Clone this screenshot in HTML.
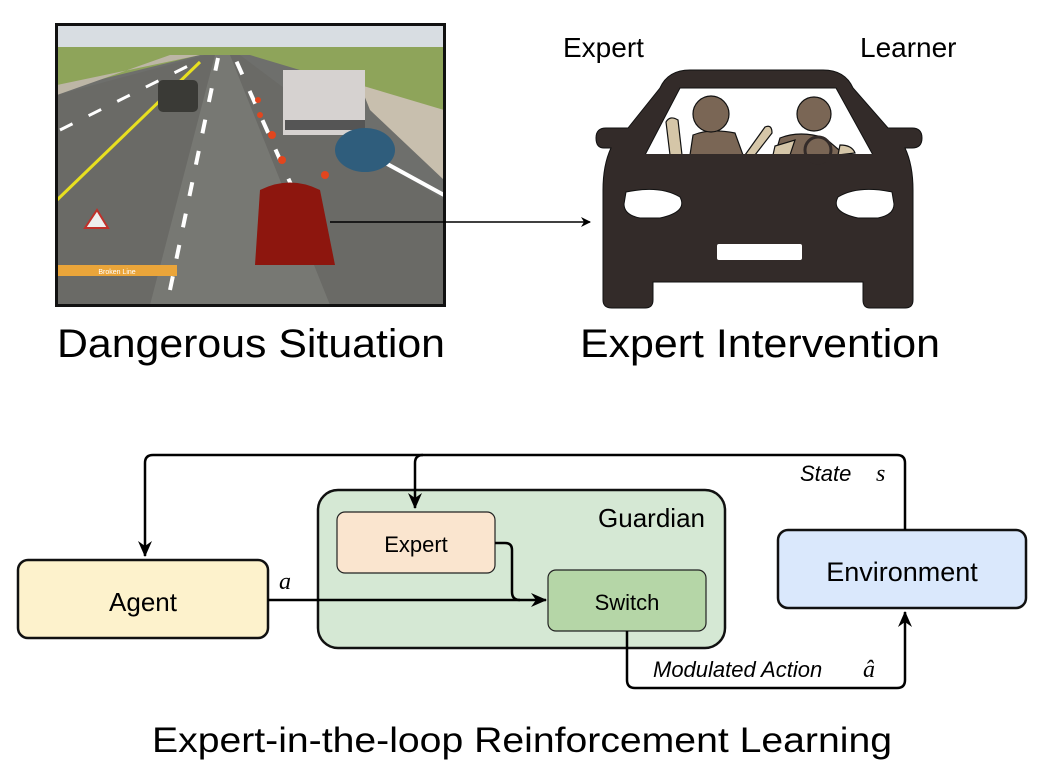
<!DOCTYPE html>
<html><head><meta charset="utf-8"><style>
html,body{margin:0;padding:0;background:#fff;}
svg{display:block;font-family:"Liberation Sans",Arial,sans-serif;}
</style></head><body>
<svg width="1048" height="782" viewBox="0 0 1048 782" xmlns="http://www.w3.org/2000/svg">
<defs>
<marker id="ah" markerWidth="10" markerHeight="10" refX="9" refY="5" orient="auto" markerUnits="userSpaceOnUse">
<path d="M0,0 L10,5 L0,10 L3,5 z" fill="#000"/></marker>
<marker id="ah2" markerWidth="16" markerHeight="14" refX="15" refY="7" orient="auto" markerUnits="userSpaceOnUse">
<path d="M0,0 L16,7 L0,14 L5,7 z" fill="#000"/></marker>
<clipPath id="scr"><rect x="57" y="25" width="387" height="280"/></clipPath>
</defs>

<g clip-path="url(#scr)">
<rect x="57" y="25" width="387" height="280" fill="#6e6f6c"/>
<rect x="57" y="25" width="387" height="22" fill="#d8dde2"/>
<polygon points="57,47 444,47 444,130 400,100 250,55 200,55 57,90" fill="#8ea45a"/>
<polygon points="57,85 200,55 170,55 57,95" fill="#bdb6a6"/>
<polygon points="360,85 444,110 444,180 370,110" fill="#c8bfae"/>
<polygon points="57,95 205,55 240,55 380,160 444,200 444,305 57,305" fill="#6a6a66"/>
<polygon points="150,305 215,55 230,55 330,305" fill="#777873"/>
<line x1="57" y1="200" x2="200" y2="62" stroke="#e8e020" stroke-width="3"/>
<g stroke="#fff" stroke-width="4" stroke-dasharray="14 18"><line x1="170" y1="290" x2="218" y2="58"/><line x1="320" y1="250" x2="235" y2="58"/><line x1="60" y1="130" x2="200" y2="60" stroke-width="3"/></g>
<line x1="380" y1="160" x2="444" y2="195" stroke="#fff" stroke-width="4"/>
<rect x="283" y="70" width="82" height="65" fill="#d6d2d0"/>
<rect x="285" y="120" width="80" height="10" fill="#555"/>
<ellipse cx="365" cy="150" rx="30" ry="22" fill="#2f5d7c"/>
<rect x="158" y="80" width="40" height="32" rx="5" fill="#3a3a36"/>
<path d="M255,265 L260,190 Q290,175 320,190 L335,265 Z" fill="#8d160e"/>
<path d="M85,228 L97,210 L108,228 Z" fill="#eee" stroke="#c0302a" stroke-width="2"/>
<rect x="57" y="265" width="120" height="11" fill="#eaa53a"/>
<text x="117" y="274" font-size="7" fill="#fff" text-anchor="middle">Broken Line</text>
<g fill="#e2461e"><circle cx="282" cy="160" r="4"/><circle cx="272" cy="135" r="4"/><circle cx="260" cy="115" r="3"/><circle cx="258" cy="100" r="3"/><circle cx="325" cy="175" r="4"/></g>
</g>
<rect x="56.5" y="24.5" width="388" height="281" fill="none" stroke="#111" stroke-width="3"/>

<line x1="330" y1="222" x2="590" y2="222" stroke="#000" stroke-width="1.5" marker-end="url(#ah)"/>

<g fill="#332b29" stroke="#111" stroke-width="1">
<path d="M660,88 Q668,70 690,70 L823,70 Q845,70 853,88 L888,128 L912,128 Q922,128 922,138 Q922,148 912,148 L905,148 Q913,165 913,190 L913,282 L913,300 Q913,308 905,308 L870,308 Q863,308 863,300 L863,282 L653,282 L653,300 Q653,308 645,308 L612,308 Q603,308 603,300 L603,190 Q603,165 611,148 L604,148 Q596,148 596,138 Q596,128 606,128 L628,128 Z"/>
</g>
<path d="M680,88 L836,88 L873,155 L645,155 Z" fill="#fff" stroke="#111"/>
<g stroke="#111" stroke-width="1.2">
<path d="M690,155 L693,135 Q710,128 735,133 L743,155 Z" fill="#7a6655"/>
<circle cx="711" cy="114" r="18" fill="#7a6655"/>
<path d="M670,155 L666,122 Q670,115 678,120 L682,155 Z" fill="#d5c6a8"/>
<path d="M745,155 L765,127 Q772,124 772,133 L755,155 Z" fill="#d5c6a8"/>
<path d="M775,155 L780,138 Q800,130 825,138 L845,155 Z" fill="#7a6655"/>
<circle cx="814" cy="114" r="17" fill="#7a6655"/>
<path d="M773,155 L775,146 L795,140 L790,155 Z" fill="#d5c6a8"/>
<path d="M838,155 L840,145 Q852,145 855,153 Z" fill="#d5c6a8"/>
<circle cx="818" cy="150" r="13" fill="none" stroke="#332b29" stroke-width="3"/>
</g>
<rect x="640" y="154" width="240" height="8" fill="#332b29"/>
<path d="M626,192 Q660,185 680,197 Q688,212 660,218 L640,218 Q624,215 624,204 Z" fill="#fff" stroke="#111"/>
<path d="M892,192 Q858,185 838,197 Q830,212 858,218 L878,218 Q894,215 894,204 Z" fill="#fff" stroke="#111"/>
<rect x="717" y="244" width="85" height="16" rx="2" fill="#fff"/>

<text x="563" y="57" font-size="28">Expert</text>
<text x="860" y="57" font-size="28">Learner</text>
<text x="57" y="357" font-size="40" textLength="388" lengthAdjust="spacingAndGlyphs">Dangerous Situation</text>
<text x="580" y="357" font-size="40" textLength="360" lengthAdjust="spacingAndGlyphs">Expert Intervention</text>

<rect x="318" y="490" width="407" height="158" rx="20" fill="#d5e8d4" stroke="#111" stroke-width="2.5"/>
<text x="705" y="527" font-size="26" text-anchor="end">Guardian</text>
<rect x="18" y="560" width="250" height="78" rx="10" fill="#fdf2cc" stroke="#111" stroke-width="2.5"/>
<text x="143" y="611" font-size="26" text-anchor="middle">Agent</text>
<rect x="337" y="512" width="158" height="61" rx="8" fill="#fae5cf" stroke="#222" stroke-width="1.2"/>
<text x="416" y="552" font-size="22" text-anchor="middle">Expert</text>
<rect x="548" y="570" width="158" height="61" rx="8" fill="#b5d6a7" stroke="#222" stroke-width="1.2"/>
<text x="627" y="610" font-size="22" text-anchor="middle">Switch</text>
<rect x="778" y="530" width="248" height="78" rx="10" fill="#dae8fc" stroke="#111" stroke-width="2.5"/>
<text x="902" y="581" font-size="27" text-anchor="middle">Environment</text>

<g fill="none" stroke="#000" stroke-width="2.5">
<path d="M905,530 L905,463 Q905,455 897,455 L153,455 Q145,455 145,463 L145,556" marker-end="url(#ah2)"/>
<path d="M423,455 Q415,455 415,463 L415,508" marker-end="url(#ah2)"/>
<path d="M268,600 L546,600" marker-end="url(#ah2)"/>
<path d="M495,543 L505,543 Q512,543 512,550 L512,592 Q512,600 520,600"/>
<path d="M627,631 L627,680 Q627,688 635,688 L897,688 Q905,688 905,680 L905,612" marker-end="url(#ah2)"/>
</g>
<text x="279" y="589" font-size="24" font-style="italic" font-family="Liberation Serif,serif">a</text>
<text x="800" y="481" font-size="22" font-style="italic">State</text>
<text x="876" y="481" font-size="24" font-style="italic" font-family="Liberation Serif,serif">s</text>
<text x="653" y="677" font-size="22" font-style="italic">Modulated Action</text>
<text x="863" y="677" font-size="24" font-style="italic" font-family="Liberation Serif,serif">â</text>

<text x="522" y="752" font-size="35" text-anchor="middle" textLength="740" lengthAdjust="spacingAndGlyphs">Expert-in-the-loop Reinforcement Learning</text>
</svg>
</body></html>
